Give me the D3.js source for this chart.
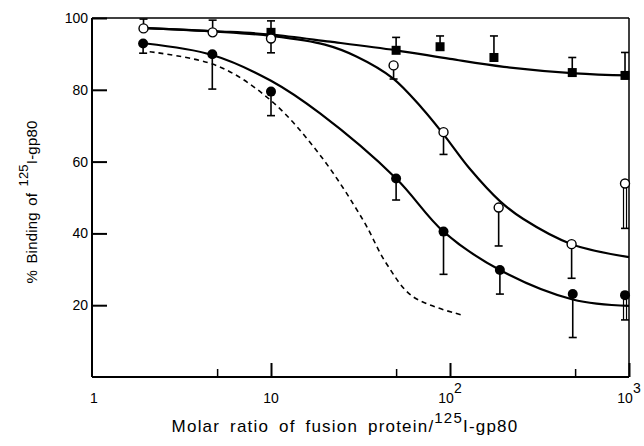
<!DOCTYPE html>
<html><head><meta charset="utf-8">
<script src="https://cdn.jsdelivr.net/npm/d3@7"></script>
<style>
body{margin:0;background:#fff;}
svg{display:block;font-family:"Liberation Sans",Arial,Helvetica,sans-serif;}
</style></head>
<body><svg id="c" width="644" height="446"></svg>
<script>
// ---- data ----
const yTicks = [20, 40, 60, 80, 100];
const xMajorTicks = [10, 100, 1000];
const xMinorTicks = [5, 50, 500];
const xLabelValues = [1, 10, 100, 1000];
const xLabelBases = ["1", "10", "10", "10"];
const xLabelExps = ["", "", "2", "3"];

// filled squares (error bars upward)
const sqX = [10, 50, 88, 176, 482, 950];
const sqY = [96, 91, 92, 89, 84.8, 84];
const sqErr = [99.2, 94.6, 95, 95, 89, 90.4];

// open circles
const ocX = [1.94, 4.72, 10, 48.4, 92, 187, 478, 950];
const ocY = [97.1, 96, 94.3, 86.8, 68.2, 47.2, 37, 53.9];
const ocErr = [99.7, 99.4, 90.3, 83, 62, 36.5, 27.5, 41.4];

// filled circles (error bars downward)
const fcX = [1.93, 4.7, 10, 50, 92, 190, 485, 950];
const fcY = [92.9, 89.9, 79.5, 55.3, 40.5, 29.8, 23.1, 22.8];
const fcErr = [90.2, 80.2, 72.8, 49.3, 28.6, 23.1, 11, 15.9];

// fitted curves
const sqCurveX = [2, 5, 10, 21.4, 50, 100, 200, 500, 1000];
const sqCurveY = [97.2, 96.3, 95.4, 93.4, 91, 88.6, 86.4, 84.6, 84];
const ocCurveX = [2, 5, 10, 20, 30, 48, 70, 92, 129, 190, 257, 478, 1000];
const ocCurveY = [97.2, 96.2, 95, 92.6, 89.3, 83.2, 74.8, 67.6, 58, 49, 44, 37, 33.4];
const fcCurveX = [2, 4.7, 10, 18.8, 50, 92, 190, 485, 1000];
const fcCurveY = [92.9, 89.7, 82.5, 73.4, 55.3, 40.5, 29.8, 21.6, 19.8];
const dashCurveX = [2.1, 5, 10, 18.8, 32.7, 44, 62, 116];
const dashCurveY = [90.6, 86.7, 77, 61.8, 43.7, 31.7, 22.4, 17.3];

// ---- chart ----
const svg = d3.select("#c");
const L = 92, R = 629, T = 18, B = 377;
const x = d3.scaleLog().domain([1, 1000]).range([L, R]);
const y = d3.scaleLinear().domain([0, 100]).range([B, T]);

// frame
svg.append("line").attr("x1", L).attr("x2", R).attr("y1", T).attr("y2", T).attr("stroke", "#000").attr("stroke-width", 1.5);
svg.append("line").attr("x1", R).attr("x2", R).attr("y1", T).attr("y2", B).attr("stroke", "#000").attr("stroke-width", 1.5);

// y axis
const yAxis = d3.axisLeft(y).tickValues(yTicks).tickSizeInner(-15).tickSizeOuter(0).tickPadding(4).tickFormat(d3.format("d"));
const ga = svg.append("g").attr("transform", `translate(${L},0)`).call(yAxis);
ga.select(".domain").attr("stroke-width", 2).attr("d", `M0,${B}V${T}`);
ga.selectAll(".tick line").attr("stroke-width", 2);
ga.selectAll(".tick text").attr("font-size", 14).attr("font-family", "Liberation Sans, Arial, sans-serif").attr("fill", "#000");

// x axis
const gx = svg.append("g").attr("transform", `translate(0,${B})`);
gx.call(d3.axisBottom(x).tickValues(xMajorTicks).tickSizeInner(-14).tickSizeOuter(0).tickFormat(""));
gx.select(".domain").attr("stroke-width", 2).attr("d", `M${L},0H${R}`);
gx.selectAll(".tick line").attr("stroke-width", 2);
const gx2 = svg.append("g").attr("transform", `translate(0,${B})`);
gx2.call(d3.axisBottom(x).tickValues(xMinorTicks).tickSizeInner(-8).tickSizeOuter(0).tickFormat(""));
gx2.select(".domain").remove();
gx2.selectAll(".tick line").attr("stroke-width", 1.5);

// x labels
const xl = svg.append("g");
xLabelValues.forEach((v, i) => {
  const t = xl.append("text").attr("x", x(v) + (i === 0 ? 2 : 0)).attr("y", 403)
    .attr("text-anchor", "middle").attr("font-size", 14).attr("fill", "#000");
  t.append("tspan").text(xLabelBases[i]);
  if (xLabelExps[i]) t.append("tspan").attr("dy", -10).attr("font-size", 14).text(xLabelExps[i]);
});

// axis titles
const xt = svg.append("text").attr("x", 345).attr("y", 432).attr("text-anchor", "middle")
  .attr("font-size", 17).attr("letter-spacing", 1.2).attr("word-spacing", 4).attr("fill", "#000");
xt.append("tspan").text("Molar ratio of fusion protein/");
xt.append("tspan").attr("dy", -9).attr("font-size", 15).text("125");
xt.append("tspan").attr("dy", 9).text("I-gp80");

const yt = svg.append("text").attr("transform", "translate(37,202) rotate(-90)").attr("text-anchor", "middle")
  .attr("font-size", 15).attr("letter-spacing", 0.2).attr("word-spacing", 2).attr("fill", "#000");
yt.append("tspan").text("% Binding of ");
yt.append("tspan").attr("dy", -9).attr("font-size", 13).text("125");
yt.append("tspan").attr("dy", 9).text("I-gp80");

// curves
const line = d3.line().x(d => x(d[0])).y(d => y(d[1])).curve(d3.curveCatmullRom.alpha(0.5));
const curves = [
  [sqCurveX, sqCurveY, null],
  [ocCurveX, ocCurveY, null],
  [fcCurveX, fcCurveY, null],
  [dashCurveX, dashCurveY, "5,4"]
];
curves.forEach(([cx, cy, dash]) => {
  svg.append("path").datum(d3.zip(cx, cy)).attr("d", line).attr("fill", "none")
    .attr("stroke", "#000").attr("stroke-width", dash ? 1.6 : 2.2)
    .attr("stroke-dasharray", dash);
});

// error bars
function errBars(xs, ys, es) {
  const g = svg.append("g");
  xs.forEach((xv, i) => {
    const px = x(xv), y0 = y(ys[i]), y1 = y(es[i]);
    const hollow = xv > 900 && es[i] < ys[i];
    if (hollow) {
      g.append("line").attr("x1", px - 1.5).attr("x2", px - 1.5).attr("y1", y0).attr("y2", y1).attr("stroke", "#000").attr("stroke-width", 1.2);
      g.append("line").attr("x1", px + 1.5).attr("x2", px + 1.5).attr("y1", y0).attr("y2", y1).attr("stroke", "#000").attr("stroke-width", 1.2);
    } else {
      g.append("line").attr("x1", px).attr("x2", px).attr("y1", y0).attr("y2", y1).attr("stroke", "#000").attr("stroke-width", 1.6);
    }
    g.append("line").attr("x1", px - 4).attr("x2", px + 4).attr("y1", y1).attr("y2", y1).attr("stroke", "#000").attr("stroke-width", 1.6);
  });
}
errBars(sqX, sqY, sqErr);
errBars(ocX, ocY, ocErr);
errBars(fcX, fcY, fcErr);

// markers
svg.append("g").selectAll("rect").data(d3.zip(sqX, sqY)).join("rect")
  .attr("x", d => x(d[0]) - 4.5).attr("y", d => y(d[1]) - 4.5).attr("width", 9).attr("height", 9).attr("fill", "#000");
svg.append("g").selectAll("circle").data(d3.zip(ocX, ocY)).join("circle")
  .attr("cx", d => x(d[0])).attr("cy", d => y(d[1])).attr("r", 4.5).attr("fill", "#fff").attr("stroke", "#000").attr("stroke-width", 1.4);
svg.append("g").selectAll("circle").data(d3.zip(fcX, fcY)).join("circle")
  .attr("cx", d => x(d[0])).attr("cy", d => y(d[1])).attr("r", 5).attr("fill", "#000");
</script></body></html>
